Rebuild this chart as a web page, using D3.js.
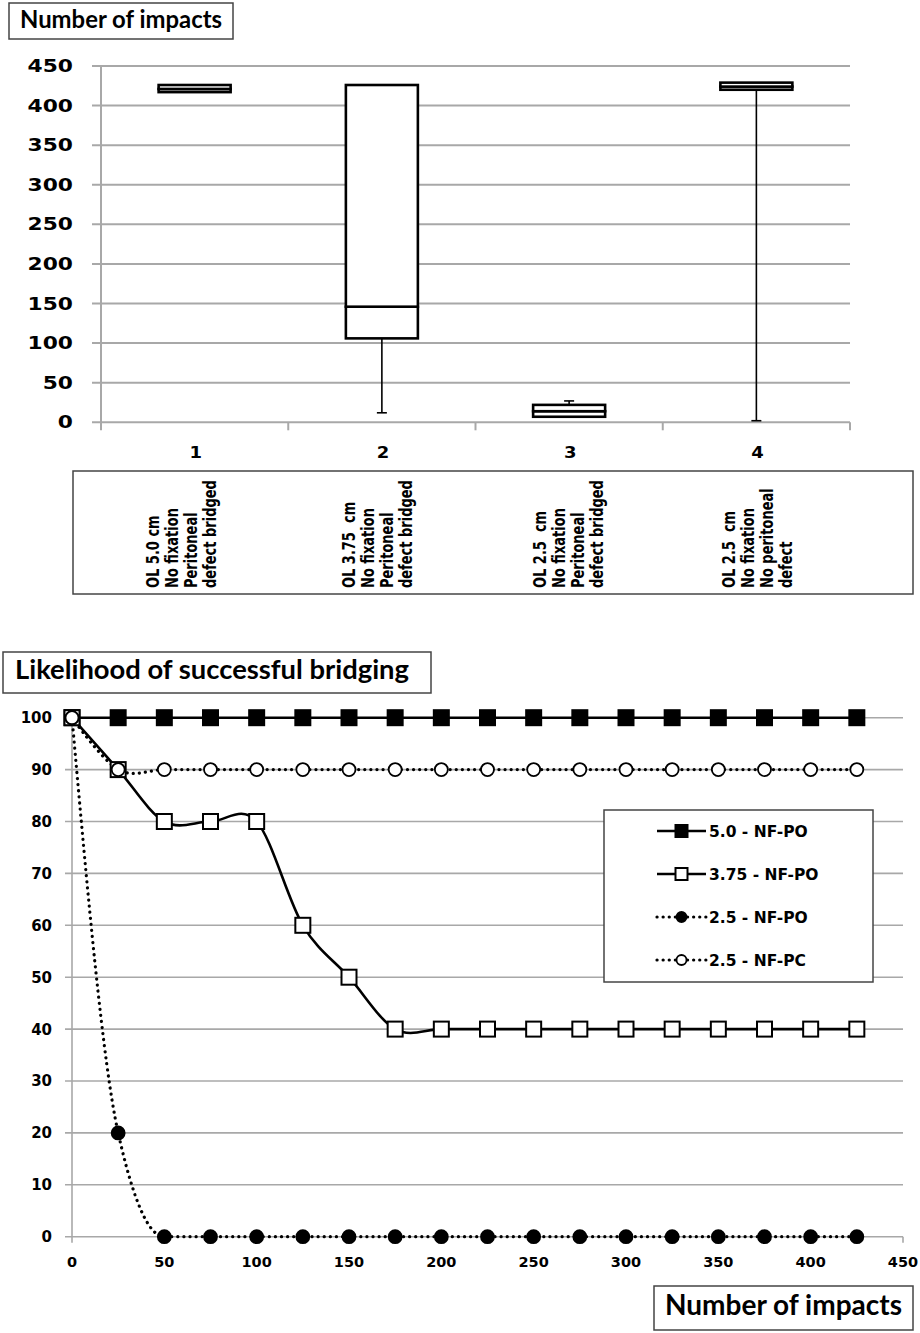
<!DOCTYPE html>
<html>
<head>
<meta charset="utf-8">
<script src="https://cdn.jsdelivr.net/npm/d3@7/dist/d3.min.js"></script>
<style>
body { margin: 0; background: #fff; }
svg { display: block; }
.tick-lab { font-family: "DejaVu Sans", Verdana, sans-serif; font-weight: bold; fill: #000; }
.title { font-family: Lato, "Open Sans", sans-serif; font-weight: bold; fill: #000; }
</style>
</head>
<body>
<svg id="chart" width="920" height="1333"></svg>
<script>
// ---- top chart data (box plot) ----
var categories = ["1", "2", "3", "4"];
var boxMin    = [417, 12, 7, 2];
var boxQ1     = [417, 106, 7, 420];
var boxMedian = [421, 146, 14, 424];
var boxQ3     = [426, 426, 22, 429];
var boxMax    = [426, 426, 27, 429];
var topTicks  = [0, 50, 100, 150, 200, 250, 300, 350, 400, 450];
var groupLabels = [
	["OL 5.0 cm", "No fixation", "Peritoneal", "defect bridged"],
	["OL 3.75  cm", "No fixation", "Peritoneal", "defect bridged"],
	["OL 2.5  cm", "No fixation", "Peritoneal", "defect bridged"],
	["OL 2.5  cm", "No fixation", "No peritoneal", "defect"]
];

// ---- bottom chart data (likelihood) ----
var impacts = [0, 25, 50, 75, 100, 125, 150, 175, 200, 225, 250, 275, 300, 325, 350, 375, 400, 425];
var s50po  = [100, 100, 100, 100, 100, 100, 100, 100, 100, 100, 100, 100, 100, 100, 100, 100, 100, 100];
var s375po = [100, 90, 80, 80, 80, 60, 50, 40, 40, 40, 40, 40, 40, 40, 40, 40, 40, 40];
var s25po  = [100, 20, 0, 0, 0, 0, 0, 0, 0, 0, 0, 0, 0, 0, 0, 0, 0, 0];
var s25pc  = [100, 90, 90, 90, 90, 90, 90, 90, 90, 90, 90, 90, 90, 90, 90, 90, 90, 90];
var seriesNames = ["5.0 - NF-PO", "3.75 - NF-PO", "2.5 - NF-PO", "2.5 - NF-PC"];
var xTicks = [0, 50, 100, 150, 200, 250, 300, 350, 400, 450];
var yTicks = [0, 10, 20, 30, 40, 50, 60, 70, 80, 90, 100];

var svg = d3.select("#chart");
var gridColor = "#a8a8a8";

// タイトルボックス
function titleBox(x, y, w, h, tx, ty, size, len, txt){
	svg.append("rect").attr("x", x).attr("y", y).attr("width", w).attr("height", h)
		.attr("fill", "#fff").attr("stroke", "#444").attr("stroke-width", 1.5);
	svg.append("text").attr("class", "title").attr("x", tx).attr("y", ty)
		.attr("font-size", size).attr("textLength", len).attr("lengthAdjust", "spacingAndGlyphs")
		.text(txt);
}

// =============== top chart ===============
var xb = d3.scaleBand().domain(categories).range([101, 850]).paddingInner(0).paddingOuter(0);
var yb = d3.scaleLinear().domain([0, 450]).range([422.3, 66]);

var gTop = svg.append("g");
// gridlines
gTop.selectAll("line.grid").data(topTicks).enter().append("line")
	.attr("x1", 92).attr("x2", 850)
	.attr("y1", function(d){ return yb(d); }).attr("y2", function(d){ return yb(d); })
	.attr("stroke", gridColor).attr("stroke-width", 2);
// y axis line
gTop.append("line").attr("x1", 101).attr("x2", 101).attr("y1", yb(450)).attr("y2", yb(0) + 8)
	.attr("stroke", gridColor).attr("stroke-width", 2);
// category boundary ticks
var bounds = categories.map(function(c){ return xb(c) + xb.bandwidth(); });
gTop.selectAll("line.ctick").data(bounds).enter().append("line")
	.attr("x1", function(d){ return d; }).attr("x2", function(d){ return d; })
	.attr("y1", yb(0)).attr("y2", yb(0) + 8)
	.attr("stroke", gridColor).attr("stroke-width", 2);
// y labels (横に少し広げる)
gTop.selectAll("text.yl").data(topTicks).enter().append("text")
	.attr("class", "tick-lab")
	.attr("transform", function(d){ return "translate(73," + yb(d) + ") scale(1.28,1)"; })
	.attr("dy", "0.36em").attr("text-anchor", "end").attr("font-size", 17)
	.text(function(d){ return d; });
// category labels
gTop.selectAll("text.xl").data(categories).enter().append("text")
	.attr("class", "tick-lab")
	.attr("transform", function(d){ return "translate(" + (xb(d) + xb.bandwidth() / 2 + 1) + ",458) scale(1.2,1)"; })
	.attr("text-anchor", "middle").attr("font-size", 15)
	.text(function(d){ return d; });

// boxes
var boxW = 72, capW = 10;
categories.forEach(function(c, i){
	var cx = xb(c) + xb.bandwidth() / 2;
	var g = gTop.append("g");
	// whiskers
	if (boxMin[i] < boxQ1[i]) {
		g.append("line").attr("x1", cx).attr("x2", cx).attr("y1", yb(boxQ1[i])).attr("y2", yb(boxMin[i]))
			.attr("stroke", "#000").attr("stroke-width", 1.6);
		g.append("line").attr("x1", cx - capW / 2).attr("x2", cx + capW / 2)
			.attr("y1", yb(boxMin[i])).attr("y2", yb(boxMin[i])).attr("stroke", "#000").attr("stroke-width", 1.6);
	}
	if (boxMax[i] > boxQ3[i]) {
		g.append("line").attr("x1", cx).attr("x2", cx).attr("y1", yb(boxQ3[i])).attr("y2", yb(boxMax[i]))
			.attr("stroke", "#000").attr("stroke-width", 1.6);
		g.append("line").attr("x1", cx - capW / 2).attr("x2", cx + capW / 2)
			.attr("y1", yb(boxMax[i])).attr("y2", yb(boxMax[i])).attr("stroke", "#000").attr("stroke-width", 1.6);
	}
	// lower and upper halves of the box
	[[boxQ1[i], boxMedian[i]], [boxMedian[i], boxQ3[i]]].forEach(function(p){
		g.append("rect").attr("x", cx - boxW / 2).attr("width", boxW)
			.attr("y", yb(p[1])).attr("height", yb(p[0]) - yb(p[1]))
			.attr("fill", "#fff").attr("stroke", "#000").attr("stroke-width", 2.6);
	});
});

titleBox(9, 3, 224, 36, 20, 28, 24, 202, "Number of impacts");

// group label box
svg.append("rect").attr("x", 73).attr("y", 471).attr("width", 840).attr("height", 123)
	.attr("fill", "#fff").attr("stroke", "#444").attr("stroke-width", 1.5);
var colX = [159, 355, 546, 735];
groupLabels.forEach(function(lines, i){
	lines.forEach(function(t, j){
		var x = colX[i] + j * 19, y = 588;
		svg.append("text").attr("class", "tick-lab").attr("font-size", 13)
			.attr("transform", "translate(" + x + "," + y + ") scale(1.35,1) rotate(-90)")
			.attr("xml:space", "preserve").style("white-space", "pre")
			.text(t);
	});
});

// =============== bottom chart ===============
var x = d3.scaleLinear().domain([0, 450]).range([72, 903]);
var y = d3.scaleLinear().domain([0, 100]).range([1236.7, 717.7]);

var gB = svg.append("g");
gB.selectAll("line.grid").data(yTicks).enter().append("line")
	.attr("x1", 65).attr("x2", x(450))
	.attr("y1", function(d){ return y(d); }).attr("y2", function(d){ return y(d); })
	.attr("stroke", gridColor).attr("stroke-width", 1.6);
gB.append("line").attr("x1", x(0)).attr("x2", x(0)).attr("y1", y(100)).attr("y2", y(0) + 6)
	.attr("stroke", gridColor).attr("stroke-width", 1.6);
gB.append("line").attr("x1", x(450)).attr("x2", x(450)).attr("y1", y(0)).attr("y2", y(0) + 6)
	.attr("stroke", gridColor).attr("stroke-width", 1.6);

gB.selectAll("text.yl").data(yTicks).enter().append("text")
	.attr("class", "tick-lab").attr("x", 52).attr("y", function(d){ return y(d); })
	.attr("dy", "0.36em").attr("text-anchor", "end").attr("font-size", 15)
	.text(function(d){ return d; });
gB.selectAll("text.xl").data(xTicks).enter().append("text")
	.attr("class", "tick-lab").attr("x", function(d){ return x(d); })
	.attr("y", 1267).attr("text-anchor", "middle").attr("font-size", 14.5)
	.text(function(d){ return d; });

var series = [
	{ vals: s50po,  dotted: false, shape: "square", fill: "#000", curve: d3.curveLinear },
	{ vals: s375po, dotted: false, shape: "square", fill: "#fff", curve: d3.curveCatmullRom.alpha(0) },
	{ vals: s25po,  dotted: true,  shape: "circle", fill: "#000", curve: d3.curveMonotoneX },
	{ vals: s25pc,  dotted: true,  shape: "circle", fill: "#fff", curve: d3.curveCatmullRom.alpha(0) }
];

function styleLine(sel, dotted){
	sel.attr("fill", "none").attr("stroke", "#000");
	if (dotted) {
		sel.attr("stroke-width", 3.2).attr("stroke-dasharray", "0.1,6").attr("stroke-linecap", "round");
	} else {
		sel.attr("stroke-width", 2.6);
	}
}
function drawMarker(g, shape, fill, cx, cy, size){
	if (shape === "square") {
		g.append("rect").attr("x", cx - size / 2).attr("y", cy - size / 2)
			.attr("width", size).attr("height", size)
			.attr("fill", fill).attr("stroke", "#000").attr("stroke-width", 2);
	} else {
		g.append("circle").attr("cx", cx).attr("cy", cy).attr("r", size / 2 - 1)
			.attr("fill", fill).attr("stroke", "#000").attr("stroke-width", 1.8);
	}
}

// lines first, then markers per series
series.forEach(function(s){
	var pts = impacts.map(function(v, i){ return [v, s.vals[i]]; });
	var line = d3.line()
		.x(function(d){ return x(d[0]); })
		.y(function(d){ return y(d[1]); })
		.curve(s.curve);
	gB.append("path").attr("d", line(pts)).call(styleLine, s.dotted);
});
series.forEach(function(s){
	var g = gB.append("g");
	impacts.forEach(function(v, i){
		drawMarker(g, s.shape, s.fill, x(v), y(s.vals[i]), 15);
	});
});

// legend
var lg = svg.append("g");
lg.append("rect").attr("x", 604).attr("y", 810).attr("width", 269).attr("height", 172)
	.attr("fill", "#fff").attr("stroke", "#444").attr("stroke-width", 1.5);
var rowY = [831, 874, 917, 960];
series.forEach(function(s, i){
	var ly = rowY[i];
	lg.append("line").attr("x1", 657).attr("x2", 706).attr("y1", ly).attr("y2", ly).call(styleLine, s.dotted);
	drawMarker(lg, s.shape, s.fill, 681.5, ly, 12);
	lg.append("text").attr("class", "tick-lab").attr("x", 709).attr("y", ly)
		.attr("dy", "0.36em").attr("font-size", 15.5).text(seriesNames[i]);
});

titleBox(3, 652, 428, 41, 15, 679, 27, 394, "Likelihood of successful bridging");
titleBox(654, 1286, 259, 44, 665, 1315, 28, 237, "Number of impacts");
</script>
</body>
</html>
